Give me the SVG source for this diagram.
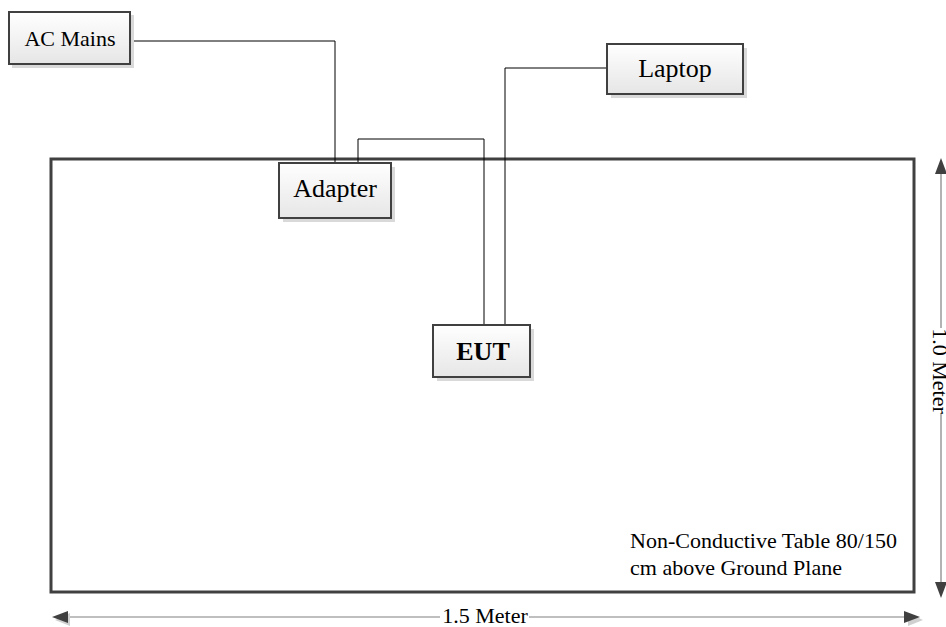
<svg xmlns="http://www.w3.org/2000/svg" width="946" height="627" viewBox="0 0 946 627">
<defs>
<linearGradient id="boxfill" x1="0" y1="0" x2="0" y2="1">
<stop offset="0" stop-color="#ffffff"/>
<stop offset="1" stop-color="#e6e6e6"/>
</linearGradient>
<style>
.shadow{fill:#d9d9d9;stroke:none}
.box{fill:url(#boxfill);stroke:#404040;stroke-width:2}
.lbl{font-family:"Liberation Serif","Times New Roman",serif;font-size:26px;fill:#000;text-anchor:middle}
.small{font-family:"Liberation Serif","Times New Roman",serif;font-size:22px;fill:#000}
.wire{fill:none;stroke:#000;stroke-width:1}
.dim{fill:none;stroke:#808080;stroke-width:1.2}
.head{fill:#404040;stroke:none}
.headsh{fill:#d0d0d0;stroke:none}
</style>
</defs>
<rect width="946" height="627" fill="#ffffff"/>
<g id="table">
<rect x="51" y="159" width="863" height="433" fill="none" stroke="#404040" stroke-width="3"/>
<text class="small" x="630" y="548">Non-Conductive Table 80/150</text>
<text class="small" x="630" y="575">cm above Ground Plane</text>
</g>
<g id="connectors">
<polyline class="wire" points="130,41 335,41 335,163"/>
<polyline class="wire" points="358,163 358,139 484,139 484,325"/>
<polyline class="wire" points="607,68 505,68 505,325"/>
</g>
<g id="ac-mains">
<rect class="shadow" x="12" y="15" width="122" height="53"/>
<rect class="box" x="9" y="12" width="121" height="52"/>
<text class="lbl" x="70" y="46" style="font-size:22px">AC Mains</text>
</g>
<g id="adapter">
<rect class="shadow" x="283" y="167" width="112" height="55"/>
<rect class="box" x="279" y="163" width="112" height="55"/>
<text class="lbl" x="335" y="197">Adapter</text>
</g>
<g id="laptop">
<rect class="shadow" x="611" y="48" width="136" height="50"/>
<rect class="box" x="607" y="44" width="136" height="50"/>
<text class="lbl" x="675" y="77">Laptop</text>
</g>
<g id="eut">
<rect class="shadow" x="437" y="329" width="97" height="52"/>
<rect class="box" x="433" y="325" width="97" height="52"/>
<text class="lbl" x="483" y="360" font-weight="bold">EUT</text>
</g>
<g id="dim-width">
<line class="dim" x1="64" y1="617" x2="440" y2="617"/>
<line class="dim" x1="529" y1="617" x2="908" y2="617"/>
<polygon class="headsh" points="55,620 70,613 70,626"/>
<polygon class="head" points="52,617 68,611 68,623"/>
<polygon class="headsh" points="923,620 908,613 908,626"/>
<polygon class="head" points="920,617 904,611 904,623"/>
<text class="small" x="485" y="623" text-anchor="middle">1.5 Meter</text>
</g>
<g id="dim-height">
<line class="dim" x1="941" y1="170" x2="941" y2="328"/>
<line class="dim" x1="941" y1="414" x2="941" y2="586"/>
<polygon class="head" points="941,158 935,174 947,174"/>
<polygon class="head" points="941,598 935,582 947,582"/>
<text class="small" transform="translate(933,371) rotate(90)" text-anchor="middle">1.0 Meter</text>
</g>
</svg>
